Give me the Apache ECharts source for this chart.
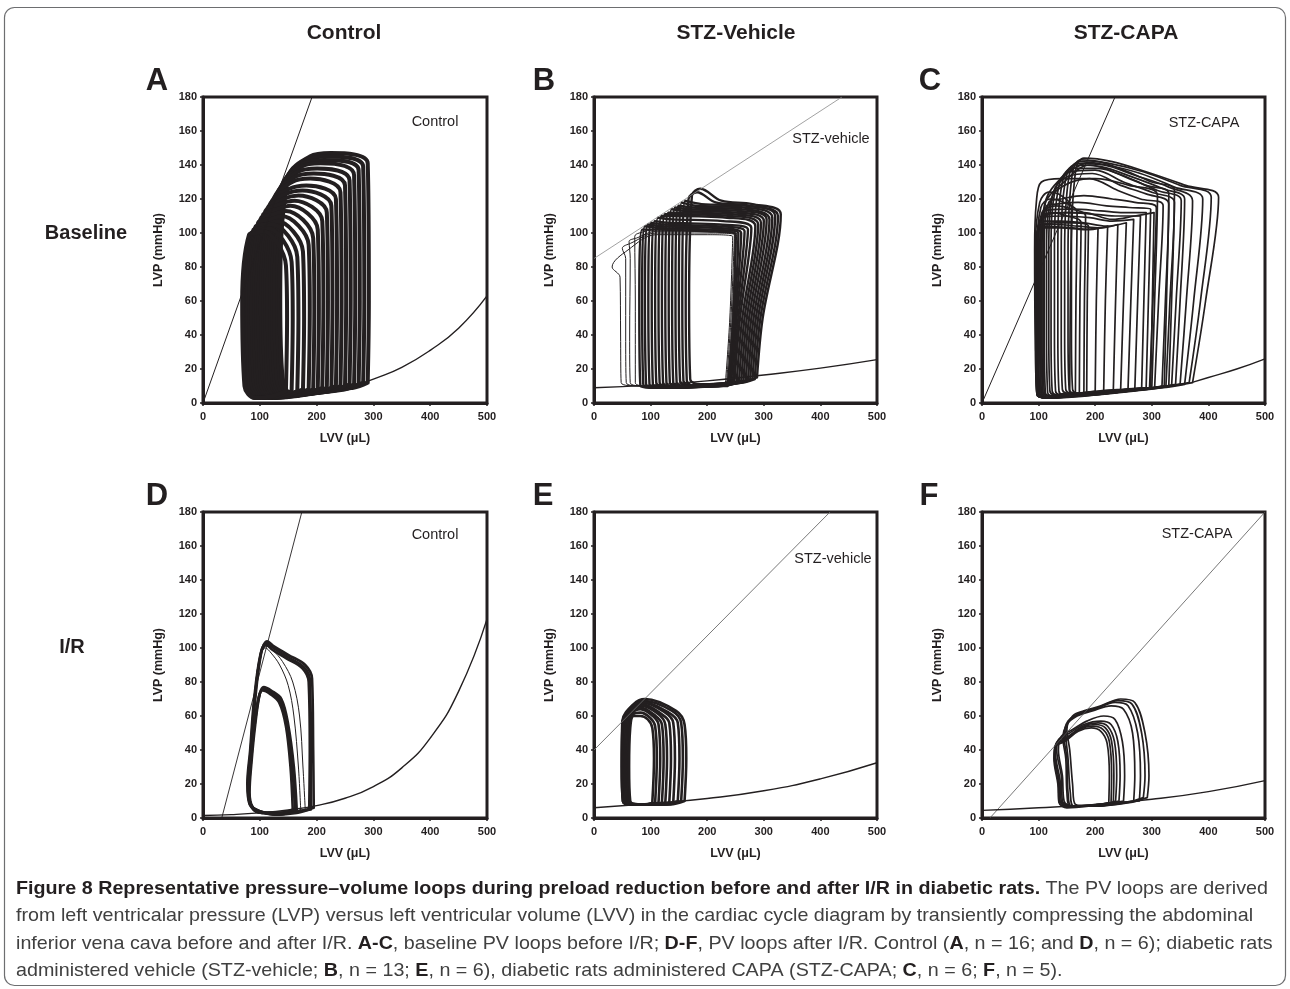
<!DOCTYPE html>
<html><head><meta charset="utf-8">
<script src="https://cdn.jsdelivr.net/npm/echarts@6/dist/echarts.min.js"></script>
<style>html,body{margin:0;padding:0;background:#fff}#c{width:1290px;height:989px}</style>
</head><body><div id="c"></div><script>
// ---------- text ----------
const columnTitles = ['Control', 'STZ-Vehicle', 'STZ-CAPA'];
const rowTitles = ['Baseline', 'I/R'];
const panelLetters = ['A', 'B', 'C', 'D', 'E', 'F'];
const panelLabels = ['Control', 'STZ-vehicle', 'STZ-CAPA', 'Control', 'STZ-vehicle', 'STZ-CAPA'];
const xAxisName = 'LVV (μL)';
const yAxisName = 'LVP (mmHg)';
const xMin = 0, xMax = 500, xStep = 100;
const yMin = 0, yMax = 180, yStep = 20;

// ---------- ESPVR (straight) lines: [LVV, LVP] ----------
const espvrA = [[0, 0], [192, 180]];
const espvrB = [[0, 85], [438, 180]];
const espvrC = [[0, 0], [235, 180]];
const espvrD = [[33, 0], [174, 180]];
const espvrE = [[0, 40], [417, 180]];
const espvrF = [[14, 0], [500, 180]];

// ---------- EDPVR curves ----------
const edpvrA = [[283, 12], [300, 14], [350, 21], [400, 31], [450, 44], [500, 63]];
const edpvrB = [[0, 9], [100, 10.5], [200, 13], [300, 16.5], [400, 20.5], [500, 25.5]];
const edpvrC = [[370, 12], [400, 15], [450, 20], [500, 26]];
const edpvrD = [[0, 1.5], [50, 2], [100, 3], [150, 4.7], [200, 7.3], [250, 11.6], [300, 18.5], [350, 29.5], [400, 47], [450, 74.5], [500, 117]];
const edpvrE = [[0, 6], [100, 8.5], [200, 11.5], [300, 16], [400, 23], [500, 32.5]];
const edpvrF = [[0, 4.5], [100, 6], [200, 8], [300, 11], [400, 15.5], [500, 22]];

// ---------- PV loops (each loop: list of [LVV, LVP]) ----------
const loopsA = [
 [[290,12],[292,60],[290,141],[225,147],[188,145],[150,133],[136,60],[140,15],[158,5],[265,9],[290,12]],
 [[282,12],[284,60],[282,139],[219,145],[183,143],[146,131],[132,60],[136,15],[154,5],[257,9],[282,12]],
 [[274,11],[276,60],[274,137],[213,143],[178,141],[142,129],[128,60],[132,14],[150,5],[249,8],[274,11]],
 [[266,11],[268,60],[266,134],[207,141],[173,139],[138,127],[124,60],[128,14],[146,5],[241,8],[266,11]],
 [[258,11],[260,60],[258,131],[201,138],[167,136],[133,124],[119,60],[123,14],[141,4],[233,8],[258,11]],
 [[250,10],[252,60],[250,128],[195,135],[162,133],[129,122],[115,60],[119,13],[137,4],[225,7],[250,10]],
 [[242,10],[244,60],[242,124],[189,132],[157,130],[125,120],[111,60],[115,13],[133,4],[217,7],[242,10]],
 [[234,10],[236,60],[234,120],[182,128],[152,126],[121,118],[107,60],[111,13],[129,4],[209,7],[234,10]],
 [[226,9],[228,60],[226,116],[175,125],[146,123],[117,116],[103,60],[107,12],[125,3],[201,6],[226,9]],
 [[218,9],[220,60],[218,112],[168,122],[141,120],[113,114],[99,60],[103,12],[121,3],[193,6],[218,9]],
 [[210,9],[212,60],[210,107],[161,119],[135,117],[109,112],[95,60],[99,12],[117,3],[185,6],[210,9]],
 [[202,8],[204,55],[202,102],[154,116],[130,114],[105,110],[91,60],[95,11],[113,3],[177,5],[202,8]],
 [[194,8],[196,55],[194,97],[146,113],[124,111],[101,108],[87,60],[91,11],[109,3],[169,5],[194,8]],
 [[186,8],[188,55],[186,93],[138,110],[118,108],[97,106],[83,60],[87,11],[105,3],[161,5],[186,8]],
 [[176,8],[178,50],[176,89],[130,107],[112,105],[93,104],[79,60],[83,11],[101,3],[151,5],[176,8]],
 [[166,7],[168,50],[166,86],[122,105],[106,103],[89,102],[75,60],[79,10],[97,3],[141,4],[166,7]],
 [[156,7],[158,50],[156,83],[114,103],[100,101],[85,100],[71,60],[75,10],[93,3],[131,4],[156,7]],
 [[146,7],[148,50],[146,81],[106,101],[94,100],[81,99],[69,60],[73,10],[91,3],[121,4],[146,7]]
];
const loopsB = [
 [[288,15],[298,50],[330,111],[280,117],[225,119],[188,126],[173,122],[168,60],[170,14],[188,11],[268,13],[288,15]],
 [[284,14],[294,50],[325,110],[275,116],[215,118],[182,124],[167,120],[162,60],[164,13],[182,10],[264,12],[284,14]],
 [[280,14],[290,50],[320,110],[270,116],[190,117],[161,119],[156,60],[158,13],[176,10],[260,12],[280,14]],
 [[276,14],[286,50],[315,109],[265,115],[180,116],[155,118],[150,60],[152,13],[170,10],[256,12],[276,14]],
 [[272,13],[282,50],[310,108],[260,114],[174,115],[149,116],[144,60],[146,12],[164,10],[252,12],[272,13]],
 [[268,13],[278,50],[305,108],[255,113],[168,114],[143,115],[138,60],[140,12],[158,10],[248,12],[268,13]],
 [[264,13],[274,50],[300,107],[250,112],[162,113],[137,114],[132,60],[134,12],[152,10],[244,12],[264,13]],
 [[260,12],[270,50],[295,106],[245,111],[156,112],[131,112],[126,60],[128,12],[146,9],[240,11],[260,12]],
 [[256,12],[266,50],[290,105],[240,110],[150,111],[125,111],[120,60],[122,12],[140,9],[236,11],[256,12]],
 [[252,12],[262,50],[285,104],[235,109],[144,110],[119,110],[114,60],[116,12],[134,9],[232,11],[252,12]],
 [[248,12],[258,50],[278,103],[228,107],[138,108],[113,109],[108,60],[110,12],[128,9],[228,11],[248,12]],
 [[245,11],[255,50],[272,102],[222,105],[132,106],[107,107],[102,60],[104,11],[122,9],[225,10],[245,11]],
 [[242,11],[252,50],[266,101],[216,104],[126,105],[101,106],[96,60],[98,11],[116,9],[222,10],[242,11]],
 [[240,11],[250,50],[260,100],[210,103],[120,104],[95,105],[90,60],[92,11],[110,9],[220,10],[240,11]],
 [[238,11],[248,50],[255,100],[205,102],[115,103],[90,104],[85,60],[87,11],[105,9],[218,10],[238,11]],
 [[236,10],[246,50],[250,99],[200,101],[110,102],[85,102],[80,60],[82,10],[100,9],[216,10],[236,10]]
];
const loopsBThin = [
 [[232,11],[240,50],[245,98],[200,99],[110,99],[60,90],[32,80],[46,74],[47,40],[48,12],[80,10],[232,11]],
 [[234,11],[242,50],[248,99],[200,100],[110,100],[65,94],[50,91],[56,85],[56,40],[57,12],[85,10],[234,11]],
 [[236,11],[244,50],[250,100],[200,101],[110,101],[75,97],[62,95],[64,85],[63,40],[64,12],[90,10],[236,11]],
 [[238,11],[246,50],[252,100],[200,101],[110,102],[80,100],[72,98],[73,60],[73,12],[95,10],[238,11]]
];
const loopsC = [
 [[372,12],[395,60],[418,121],[360,128],[290,136],[230,142],[180,144],[166,138],[158,90],[158,40],[160,8],[178,5],[332,10],[372,12]],
 [[366,12],[386,60],[405,121],[350,128],[285,136],[225,141],[175,143],[160,136],[152,90],[152,40],[154,8],[172,5],[326,10],[366,12]],
 [[358,11],[374,60],[390,120],[340,127],[280,135],[220,140],[172,142],[154,134],[146,90],[146,40],[148,8],[166,5],[318,9],[358,11]],
 [[350,11],[361,60],[372,119],[330,127],[270,134],[215,140],[168,141],[148,132],[140,90],[140,40],[142,8],[160,5],[310,9],[350,11]],
 [[342,11],[350,60],[358,120],[320,126],[265,133],[210,139],[165,140],[142,130],[134,90],[134,40],[136,7],[154,4],[302,9],[342,11]],
 [[335,10],[343,60],[352,119],[310,125],[260,132],[205,138],[160,138],[136,128],[128,90],[128,40],[130,7],[148,4],[295,8],[335,10]],
 [[325,10],[332,60],[340,118],[300,124],[250,130],[200,137],[155,136],[130,126],[122,90],[122,40],[124,7],[142,4],[285,8],[325,10]],
 [[318,10],[324,60],[330,117],[290,123],[245,128],[195,135],[150,133],[126,124],[118,90],[118,40],[120,7],[138,4],[278,8],[318,10]],
 [[305,9],[312,60],[320,116],[280,120],[240,125],[190,132],[145,128],[122,120],[114,90],[114,40],[116,6],[134,4],[265,8],[305,9]],
 [[296,9],[302,60],[308,115],[270,118],[230,120],[180,122],[140,120],[118,118],[110,90],[110,40],[112,6],[130,4],[256,8],[296,9]],
 [[290,9],[294,60],[298,114],[260,115],[220,116],[170,118],[130,117],[114,116],[106,90],[106,40],[108,6],[126,4],[250,8],[290,9]],
 [[282,8],[286,60],[290,112],[250,112],[210,113],[160,114],[111,113],[103,90],[103,40],[105,6],[123,3],[242,7],[282,8]],
 [[270,8],[275,60],[280,110],[240,110],[200,111],[150,112],[108,111],[100,90],[100,40],[102,6],[120,3],[230,7],[270,8]],
 [[258,8],[263,60],[268,108],[230,107],[190,109],[145,110],[106,109],[98,90],[98,40],[100,6],[118,3],[218,7],[258,8]],
 [[245,8],[250,60],[255,106],[220,104],[180,106],[140,107],[105,107],[97,90],[97,40],[99,6],[117,3],[205,7],[245,8]],
 [[232,7],[236,60],[240,105],[210,103],[170,104],[130,105],[104,105],[96,90],[96,40],[98,5],[116,3],[192,6],[232,7]],
 [[215,7],[218,60],[222,104],[190,102],[160,103],[104,104],[96,90],[96,40],[98,5],[116,3],[175,6],[215,7]],
 [[200,7],[202,60],[205,103],[180,102],[140,103],[103,103],[95,90],[95,40],[97,5],[115,3],[160,5],[200,7]],
 [[185,6],[186,60],[188,104],[160,106],[130,106],[103,104],[95,90],[95,40],[97,5],[115,3],[150,5],[185,6]],
 [[172,6],[173,60],[175,106],[150,110],[125,112],[104,108],[96,90],[96,40],[98,5],[116,3],[140,5],[172,6]],
 [[300,9],[305,60],[310,122],[260,128],[200,132],[140,132],[105,130],[96,118],[93,90],[94,40],[97,6],[115,3],[260,8],[300,9]],
 [[330,10],[335,60],[340,125],[300,130],[250,137],[200,142],[150,135],[112,118],[108,90],[108,40],[110,6],[128,4],[290,8],[330,10]],
 [[322,10],[326,60],[330,123],[290,128],[240,135],[190,140],[145,130],[110,116],[105,90],[105,40],[107,6],[125,4],[282,8],[322,10]],
 [[298,9],[301,60],[304,112],[270,110],[230,108],[180,112],[150,112],[112,110],[102,90],[102,40],[104,6],[122,3],[258,7],[298,9]],
 [[180,6],[181,60],[183,110],[160,114],[130,116],[106,112],[99,90],[99,40],[101,5],[118,3],[150,5],[180,6]],
 [[165,6],[166,60],[168,112],[145,118],[120,120],[104,115],[97,90],[97,40],[99,5],[117,3],[140,5],[165,6]],
 [[155,6],[156,60],[158,115],[140,122],[118,124],[102,118],[94,90],[95,40],[97,5],[115,3],[135,5],[155,6]]
];
const loopsD = [
 [[195,6],[194,40],[192,82],[180,90],[150,96],[125,101],[113,104],[103,98],[92,70],[85,40],[80,20],[84,8],[100,4],[130,2],[170,4],[195,6]],
 [[190,5],[190,40],[188,82],[177,89],[148,95],[124,100],[112,103],[102,97],[91,70],[84,40],[79,20],[83,8],[100,4],[130,2],[168,4],[190,5]],
 [[187,5],[188,40],[186,80],[175,88],[146,94],[122,99],[111,102],[101,96],[90,70],[83,40],[78,20],[82,8],[98,4],[128,2],[165,3],[187,5]],
 [[165,5],[160,30],[150,55],[138,70],[120,75],[107,77],[100,73],[92,55],[86,35],[82,15],[88,6],[105,3],[140,3],[165,5]],
 [[162,5],[157,30],[148,55],[136,69],[119,74],[106,76],[99,72],[91,55],[85,35],[81,15],[87,6],[104,3],[138,3],[162,5]],
 [[158,5],[154,30],[146,54],[134,68],[118,73],[105,75],[98,71],[90,55],[84,35],[80,15],[86,6],[103,3],[136,3],[158,5]]
];
const loopsDThin = [
 [[180,5],[176,30],[170,60],[158,80],[140,92],[122,99],[112,101],[101,96],[90,70],[83,40],[79,20],[84,8],[100,4],[130,2],[160,3],[180,5]],
 [[172,5],[168,30],[160,60],[150,78],[135,90],[120,97],[110,100],[100,95],[90,70],[84,40],[80,18],[86,8],[100,4],[128,2],[155,3],[172,5]]
];
const loopsE = [
 [[160,10],[163,35],[160,55],[145,63],[90,70],[70,67],[50,57],[49,30],[51,10],[65,8],[135,8],[160,10]],
 [[154,10],[157,35],[154,56],[138,63],[88,69],[69,66],[51,57],[49,30],[51,10],[65,8],[130,8],[154,10]],
 [[148,10],[151,35],[148,56],[132,62],[86,68],[68,66],[52,57],[50,30],[52,10],[66,8],[124,8],[148,10]],
 [[140,9],[143,35],[140,56],[126,62],[85,68],[67,65],[53,56],[51,30],[53,10],[67,8],[116,8],[140,9]],
 [[133,9],[136,35],[133,56],[120,61],[84,67],[67,65],[55,56],[53,30],[55,10],[69,8],[110,8],[133,9]],
 [[126,9],[129,35],[126,55],[114,61],[83,66],[67,64],[56,56],[54,30],[56,10],[70,8],[104,8],[126,9]],
 [[120,9],[123,35],[120,55],[109,60],[82,65],[67,63],[58,55],[56,30],[58,10],[72,8],[98,8],[120,9]],
 [[114,9],[117,35],[114,55],[104,60],[82,64],[68,62],[60,55],[58,30],[60,10],[74,8],[94,8],[114,9]],
 [[108,9],[111,35],[108,54],[99,59],[82,62],[69,61],[62,54],[60,30],[62,10],[76,8],[92,8],[108,9]],
 [[103,9],[106,35],[103,53],[95,58],[82,60],[70,60],[64,53],[62,30],[64,10],[78,8],[90,8],[103,9]]
];
const loopsF = [
 [[292,12],[295,25],[288,50],[270,68],[245,70],[210,66],[180,63],[160,60],[150,52],[155,40],[160,20],[165,8],[200,7],[260,9],[292,12]],
 [[285,12],[288,25],[282,50],[265,67],[240,69],[205,65],[175,62],[155,58],[148,50],[152,35],[156,15],[162,7],[200,7],[255,9],[285,12]],
 [[278,10],[280,25],[275,50],[258,66],[235,68],[200,64],[172,61],[152,57],[145,48],[150,35],[152,15],[158,7],[200,7],[250,9],[278,10]],
 [[268,10],[270,25],[266,50],[250,64],[228,66],[195,63],[168,60],[150,55],[143,47],[148,35],[150,15],[155,7],[195,7],[245,9],[268,10]],
 [[250,10],[252,25],[248,45],[235,58],[215,60],[185,57],[160,52],[140,48],[135,40],[142,25],[145,10],[160,7],[210,8],[250,10]],
 [[242,10],[244,25],[240,45],[228,55],[210,57],[180,55],[155,50],[135,46],[132,40],[140,25],[142,10],[158,7],[205,8],[242,10]],
 [[236,10],[238,25],[234,45],[222,54],[205,56],[178,54],[152,48],[133,45],[130,38],[138,22],[140,10],[155,7],[200,7],[236,10]],
 [[232,9],[233,25],[229,45],[218,53],[200,55],[175,53],[150,47],[131,44],[129,37],[136,22],[138,10],[153,7],[195,7],[232,9]],
 [[228,9],[229,25],[225,45],[214,52],[196,54],[172,52],[148,46],[130,43],[128,36],[135,20],[137,9],[150,7],[190,7],[228,9]],
 [[224,9],[225,25],[221,44],[210,51],[193,53],[170,51],[146,45],[129,42],[127,35],[134,20],[136,9],[150,6],[188,7],[224,9]]
];

// ---------- caption ----------
const captionLines = [
 [['b', 'Figure 8 Representative pressure–volume loops during preload reduction before and after I/R in diabetic rats.'], ['n', ' The PV loops are derived']],
 [['n', 'from left ventricalar pressure (LVP) versus left ventricular volume (LVV) in the cardiac cycle diagram by transiently compressing the abdominal']],
 [['n', 'inferior vena cava before and after I/R. '], ['b', 'A-C'], ['n', ', baseline PV loops before I/R; '], ['b', 'D-F'], ['n', ', PV loops after I/R. Control ('], ['b', 'A'], ['n', ', n = 16; and '], ['b', 'D'], ['n', ', n = 6); diabetic rats']],
 [['n', 'administered vehicle (STZ-vehicle; '], ['b', 'B'], ['n', ', n = 13; '], ['b', 'E'], ['n', ', n = 6), diabetic rats administered CAPA (STZ-CAPA; '], ['b', 'C'], ['n', ', n = 6; '], ['b', 'F'], ['n', ', n = 5).']]
];

// ---------- layout / style (not data) ----------
const INK = '#231f20';
const FONT = '"Liberation Sans", Arial, sans-serif';
const gridBoxes = [
 {left: 203, top: 97, width: 284, height: 306},
 {left: 594, top: 97, width: 283, height: 306},
 {left: 982, top: 97, width: 283, height: 306},
 {left: 203, top: 512, width: 284, height: 306},
 {left: 594, top: 512, width: 283, height: 306},
 {left: 982, top: 512, width: 283, height: 306}
];
const panelLetterPos = [[157, 81], [544, 81], [930, 81], [157, 496], [543, 496], [929, 496]];
const panelLabelPos = [[435, 122], [831, 139], [1204, 123], [435, 535], [833, 559], [1197, 534]];
const columnTitlePos = [[344, 33], [736, 33], [1126, 33]];
const rowTitlePos = [[86, 233], [72, 647]];

const panels = [
 {loops: [[loopsA, 4]], espvr: espvrA, espvrStyle: [INK, 1], edpvr: edpvrA},
 {loops: [[loopsB, 2.4], [loopsBThin, 1]], espvr: espvrB, espvrStyle: ['#8a8a8a', 0.8], edpvr: edpvrB},
 {loops: [[loopsC, 1.7]], espvr: espvrC, espvrStyle: [INK, 1], edpvr: edpvrC},
 {loops: [[loopsD, 2.6], [loopsDThin, 1]], espvr: espvrD, espvrStyle: [INK, 0.9], edpvr: edpvrD},
 {loops: [[loopsE, 2.6]], espvr: espvrE, espvrStyle: ['#6a6a6a', 0.9], edpvr: edpvrE},
 {loops: [[loopsF, 1.7]], espvr: espvrF, espvrStyle: ['#555', 0.8], edpvr: edpvrF}
];

const grids = [], xAxes = [], yAxes = [], series = [];
panels.forEach((p, i) => {
  grids.push(Object.assign({show: true, borderColor: INK, borderWidth: 3, backgroundColor: 'transparent'}, gridBoxes[i]));
  xAxes.push({
    type: 'value', gridIndex: i, min: xMin, max: xMax, interval: xStep,
    name: xAxisName, nameLocation: 'middle', nameGap: 29,
    nameTextStyle: {fontFamily: FONT, fontWeight: 'bold', fontSize: 12.5, color: INK},
    axisLine: {show: true, lineStyle: {color: INK, width: 3}},
    axisTick: {show: true, length: 3, lineStyle: {color: INK, width: 1.5}},
    axisLabel: {fontFamily: FONT, fontWeight: 'bold', fontSize: 11, color: INK, margin: 8},
    splitLine: {show: false}
  });
  yAxes.push({
    type: 'value', gridIndex: i, min: yMin, max: yMax, interval: yStep,
    name: yAxisName, nameLocation: 'middle', nameGap: 38,
    nameTextStyle: {fontFamily: FONT, fontWeight: 'bold', fontSize: 12.5, color: INK},
    axisLine: {show: true, lineStyle: {color: INK, width: 3}},
    axisTick: {show: true, length: 3, lineStyle: {color: INK, width: 1.5}},
    axisLabel: {fontFamily: FONT, fontWeight: 'bold', fontSize: 11, color: INK, margin: 6},
    splitLine: {show: false}
  });
  p.loops.forEach(([set, w]) => {
    set.forEach(loop => {
      series.push({
        type: 'line', xAxisIndex: i, yAxisIndex: i, data: loop, showSymbol: false,
        smooth: 0.35, silent: true, z: 2, clip: true,
        lineStyle: {color: INK, width: w, join: 'round', cap: 'round'}
      });
    });
  });
  series.push({
    type: 'line', xAxisIndex: i, yAxisIndex: i, data: p.espvr, showSymbol: false, silent: true, z: 3, clip: true,
    lineStyle: {color: p.espvrStyle[0], width: p.espvrStyle[1]}
  });
  series.push({
    type: 'line', xAxisIndex: i, yAxisIndex: i, data: p.edpvr, showSymbol: false, smooth: 0.5, silent: true, z: 3, clip: true,
    lineStyle: {color: INK, width: 1.4}
  });
});

// caption: condensed look via horizontal scaling fitted to the first line
const CAP_FONT = '"Liberation Sans Narrow", "Liberation Sans", Arial, sans-serif';
const CAP_SIZE = 19;
const ctx = document.createElement('canvas').getContext('2d');
function lineWidth(line) {
  let w = 0;
  line.forEach(([k, t]) => {
    ctx.font = (k === 'b' ? 'bold ' : '') + CAP_SIZE + 'px ' + CAP_FONT;
    w += ctx.measureText(t).width;
  });
  return w;
}
const capScale = 1252 / lineWidth(captionLines[0]);
const capY = [889, 916, 944, 971];

const graphic = [];
graphic.push({type: 'rect', silent: true, shape: {x: 4.5, y: 7.5, width: 1281, height: 978, r: 10},
  style: {fill: 'none', stroke: '#6d6e70', lineWidth: 1.2}});
columnTitles.forEach((t, i) => graphic.push({type: 'text', x: columnTitlePos[i][0], y: columnTitlePos[i][1],
  style: {text: t, fontFamily: FONT, fontWeight: 'bold', fontSize: 21, fill: INK, align: 'center', verticalAlign: 'middle'}}));
rowTitles.forEach((t, i) => graphic.push({type: 'text', x: rowTitlePos[i][0], y: rowTitlePos[i][1],
  style: {text: t, fontFamily: FONT, fontWeight: 'bold', fontSize: 20, fill: INK, align: 'center', verticalAlign: 'middle'}}));
panelLetters.forEach((t, i) => graphic.push({type: 'text', x: panelLetterPos[i][0], y: panelLetterPos[i][1],
  style: {text: t, fontFamily: FONT, fontWeight: 'bold', fontSize: 31, fill: INK, align: 'center', verticalAlign: 'middle'}}));
panelLabels.forEach((t, i) => graphic.push({type: 'text', x: panelLabelPos[i][0], y: panelLabelPos[i][1], z: 10,
  style: {text: t, fontFamily: FONT, fontSize: 14.5, fill: INK, align: 'center', verticalAlign: 'middle'}}));
captionLines.forEach((line, i) => {
  const txt = line.map(([k, t]) => '{' + k + '|' + t + '}').join('');
  graphic.push({type: 'text', x: 16, y: capY[i], scaleX: capScale, originX: 0, originY: 0,
    style: {text: txt, verticalAlign: 'middle', align: 'left',
      rich: {
        b: {fontFamily: CAP_FONT, fontSize: CAP_SIZE, fontWeight: 'bold', fill: '#231f20'},
        n: {fontFamily: CAP_FONT, fontSize: CAP_SIZE, fill: '#404040'}
      }}});
});

const chart = echarts.init(document.getElementById('c'), null, {renderer: 'canvas'});
chart.setOption({animation: false, backgroundColor: '#fff', grid: grids, xAxis: xAxes, yAxis: yAxes, series, graphic});
</script></body></html>
